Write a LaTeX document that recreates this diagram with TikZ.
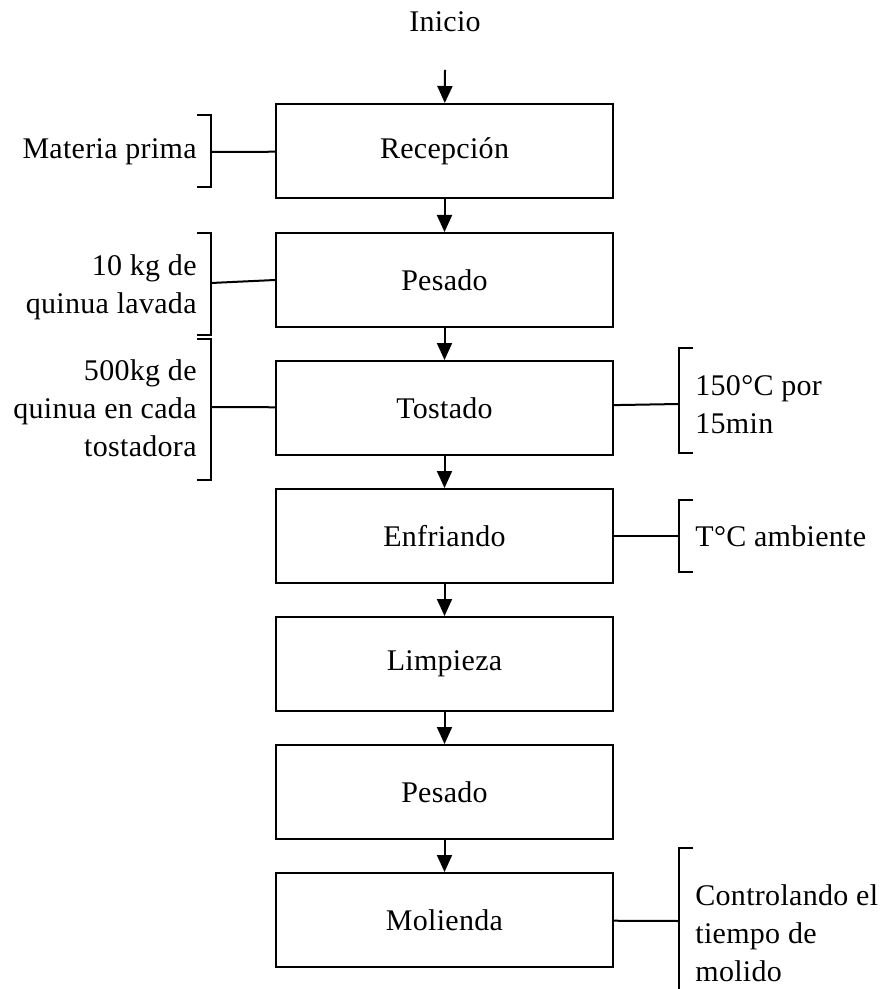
\documentclass[tikz,border=0pt]{standalone}
\usepackage{fontspec}
\setmainfont{Liberation Serif}[LetterSpace=1]
\usetikzlibrary{arrows.meta}

\begin{document}
\begin{tikzpicture}[x=0.5pt,y=-0.5pt,font=\fontsize{15}{19}\selectfont,
       box/.style={draw,line width=1pt,minimum width=168.5pt,minimum height=47pt},
       note/.style={inner sep=0pt},
       arr/.style={-{Triangle[length=8.5pt,width=7.5pt]},line width=1pt},
       brk/.style={line width=1pt}]
      \useasboundingbox (0,0) rectangle (880,989);
      % flujo principal
      \node[note] (ini) at (445,22) {Inicio};
      \coordinate (s) at (445,70);
      \node[box] (rec) at (444.5,151) {Recepción};
      \node[box] (pes1) at (444.5,280) {Pesado};
      \node[box] (tos) at (444.5,408) {Tostado};
      \node[box] (enf) at (444.5,536) {Enfriando};
      \node[box] (lim) at (444.5,664) {Limpieza};
      \node[box] (pes2) at (444.5,792) {Pesado};
      \node[box] (mol) at (444.5,920) {Molienda};
      \draw[arr] (s) -- (rec);
      \draw[arr] (rec) -- (pes1);
      \draw[arr] (pes1) -- (tos);
      \draw[arr] (tos) -- (enf);
      \draw[arr] (enf) -- (lim);
      \draw[arr] (lim) -- (pes2);
      \draw[arr] (pes2) -- (mol);
      % notas izquierda
      \draw[brk] (197,115) -- (211,115) -- (211,187) -- (197,187);
      \draw[brk] (197,233) -- (211,233) -- (211,335) -- (197,335);
      \draw[brk] (197,339) -- (211,339) -- (211,480) -- (197,480);
      \coordinate (b1) at (211,152);
      \coordinate (b2) at (211,283);
      \coordinate (b3) at (211,407);
      \draw[brk] (b1) -- (rec);
      \draw[brk] (b2) -- (pes1.west);
      \draw[brk] (b3) -- (tos);
      \node[note,anchor=east] (n1) at (197,152) {Materia prima};
      \node[note,anchor=east,align=right] (n2) at (197,287) {10 kg de\\quinua lavada};
      \node[note,anchor=east,align=right] (n3) at (197,408) {500kg de\\quinua en cada\\tostadora};
      % notas derecha
      \draw[brk] (693,348) -- (679,348) -- (679,453) -- (693,453);
      \draw[brk] (693,500) -- (679,500) -- (679,572) -- (693,572);
      \draw[brk] (693,848) -- (679,848) -- (679,989);
      \coordinate (b4) at (679,404);
      \coordinate (b5) at (679,536);
      \coordinate (b6) at (679,921);
      \draw[brk] (tos) -- (b4);
      \draw[brk] (enf) -- (b5);
      \draw[brk] (mol) -- (b6);
      \node[note,anchor=west,align=left] (n4) at (695,405) {150°C por\\15min};
      \node[note,anchor=west] (n5) at (695,536) {T°C ambiente};
      \node[note,anchor=west,align=left] (n6) at (695,933) {Controlando el\\tiempo de\\molido};
    \end{tikzpicture}
\end{document}
